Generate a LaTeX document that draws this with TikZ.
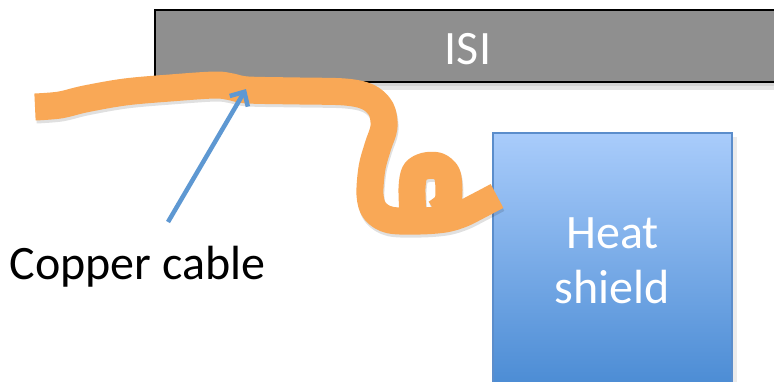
\documentclass[tikz,border=0pt]{standalone}
\usepackage{fontspec}
\setmainfont{Carlito}
\usetikzlibrary{arrows.meta}
\definecolor{isigray}{HTML}{8F8F8F}
\definecolor{cableorange}{HTML}{F9A856}
\definecolor{arrowblue}{HTML}{5E98D2}
\definecolor{shieldtop}{HTML}{A9CCFB}
\definecolor{shieldbot}{HTML}{4D8DD5}
\definecolor{shieldedge}{HTML}{5B8DCB}
\tikzset{
  labeltext/.style={font=\fontsize{48}{57}\selectfont, inner sep=0pt},
  boxlabel/.style={labeltext, text=white},
  cable/.style={draw=cableorange, line width=27pt, line cap=butt, line join=round},
  cableshadow/.style={draw=black, opacity=0.12, line width=27pt, line cap=butt, line join=round},
  cablepts/.style={insert path={plot[smooth, tension=0.55] coordinates {
    (35,107) (60,105) (85,99) (125,92) (170,88) (215,85) (232,87) (248,90)
    (300,91) (345,92) (368,97) (381,109) (384,127) (378,146) (372,168)
    (370,195) (375,211) (390,220) (420,221) (445,219) (462,214) (478,206) (497,196)}
    plot[smooth, tension=0.5] coordinates {
    (413,216) (412,188) (415,172) (425,166) (438,166) (447,174) (449,190) (447,204) (436,213)}}},
  pointer/.style={draw=arrowblue, line width=4.5pt, -{Straight Barb[length=11pt,width=21pt]}},
}
\begin{document}
\begin{tikzpicture}[x=1pt,y=-1pt]
\useasboundingbox[fill=white] (0,0) rectangle (774,381);

% ISI plate with shadow
\fill[black, opacity=0.10] (158,82) rectangle (780,90);
\fill[black, opacity=0.08] (158,82) rectangle (780,86);
\filldraw[fill=isigray, draw=black, line width=2pt] (155,10) rectangle (780,82);
\node[boxlabel, anchor=base] (isi) at (468,64) {ISI};

% Heat shield with shadow
\fill[black, opacity=0.08] (732,137) rectangle (737,390);
\shade[top color=shieldtop, bottom color=shieldbot]
  (493,133) rectangle (732,381);
\draw[shieldedge, line width=1.5pt] (493,390) -- (493,133) -- (732,133) -- (732,390);
\node[boxlabel, anchor=base] (heat) at (612.5,248) {Heat};
\node[boxlabel, anchor=base] (shield) at (612,303) {shield};

% copper cable
\begin{scope}[shift={(1,3)}]
  \path[cableshadow, cablepts];
\end{scope}
\path[cable, cablepts];

% label and pointer
\node[labeltext, anchor=base west] (copper) at (9.5,279) {Copper cable};
\coordinate (arrowtail) at (168,222);
\coordinate (arrowtip) at (246,89);
\draw[pointer] (arrowtail) -- (arrowtip);
\end{tikzpicture}
\end{document}
